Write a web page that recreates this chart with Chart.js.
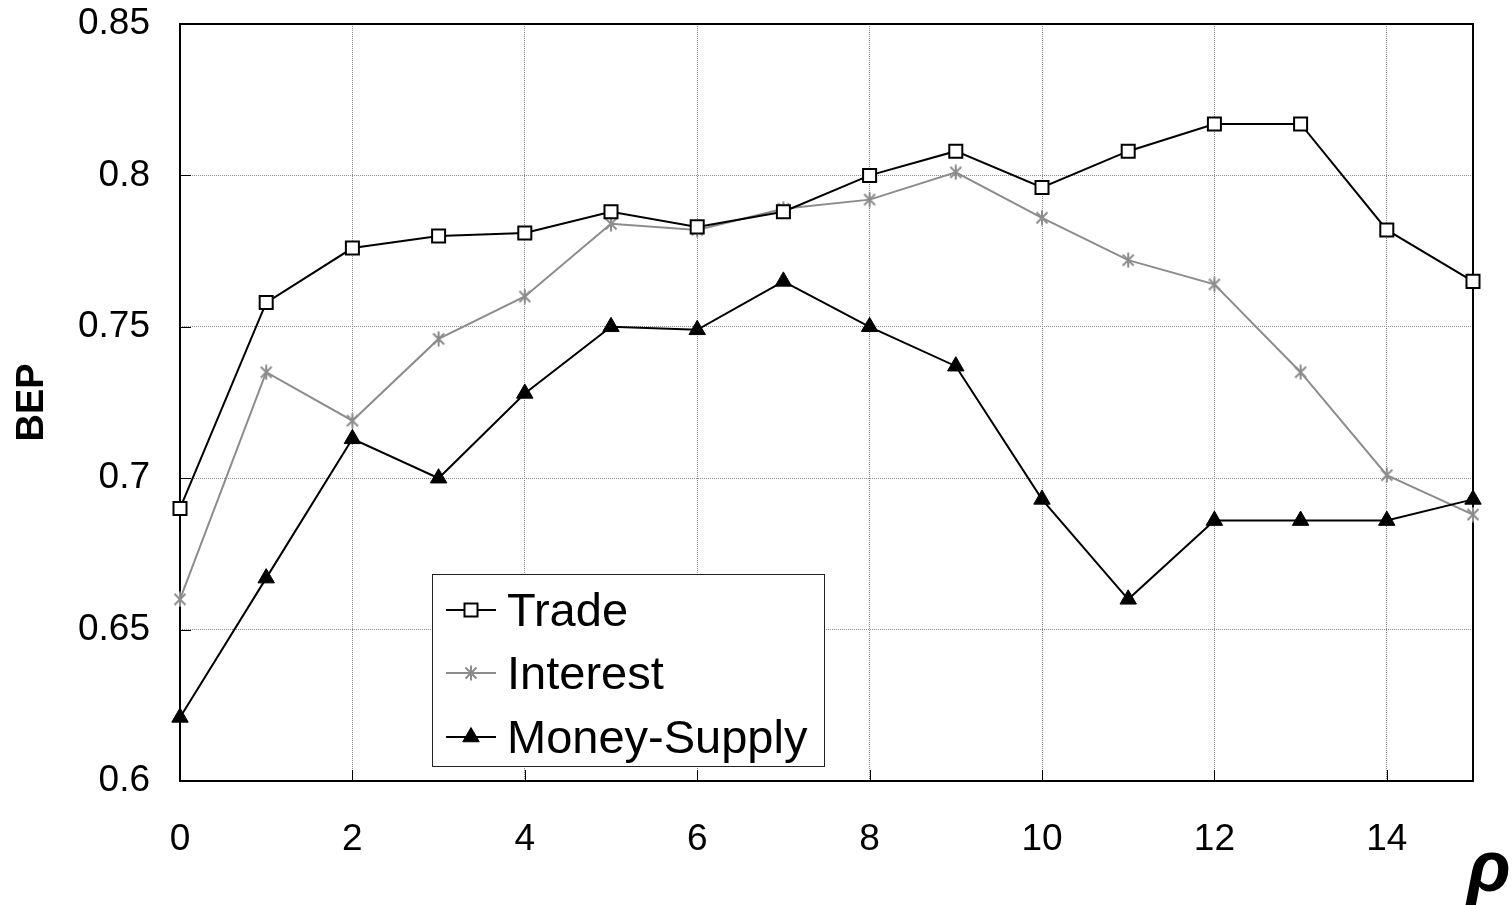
<!DOCTYPE html>
<html>
<head>
<meta charset="utf-8">
<script src="https://cdn.jsdelivr.net/npm/chart.js@4.4.1/dist/chart.umd.min.js"></script>
<style>
  html, body { margin: 0; padding: 0; background: #fff; }
  #wrap { width: 1512px; height: 905px; position: relative; }
</style>
</head>
<body>
<div id="wrap"><canvas id="c"></canvas></div>
<script>
// ---- data ----
const rho = [0, 1, 2, 3, 4, 5, 6, 7, 8, 9, 10, 11, 12, 13, 14, 15];
const tradeBEP = [0.690, 0.758, 0.776, 0.780, 0.781, 0.788, 0.783, 0.788, 0.800, 0.808, 0.796, 0.808, 0.817, 0.817, 0.782, 0.765];
const interestBEP = [0.660, 0.735, 0.719, 0.746, 0.760, 0.784, 0.782, 0.789, 0.792, 0.801, 0.786, 0.772, 0.764, 0.735, 0.701, 0.688];
const moneySupplyBEP = [0.621, 0.667, 0.713, 0.700, 0.728, 0.750, 0.749, 0.765, 0.750, 0.737, 0.693, 0.660, 0.686, 0.686, 0.686, 0.693];
const seriesNames = ['Trade', 'Interest', 'Money-Supply'];
const xTickValues = [0, 2, 4, 6, 8, 10, 12, 14];
const yTickValues = [0.6, 0.65, 0.7, 0.75, 0.8, 0.85];
const xTitle = 'ρ';
const yTitle = 'BEP';

const FONT = '"Liberation Sans", Arial, sans-serif';
const GRAY = '#8c8c8c';

// asterisk marker (X + vertical bar)
function makeAsterisk(color) {
  const c = document.createElement('canvas');
  c.width = 16; c.height = 16;
  const g = c.getContext('2d');
  g.strokeStyle = color; g.lineWidth = 2; g.lineCap = 'butt';
  g.beginPath();
  g.moveTo(2.5, 2.5); g.lineTo(13.5, 13.5);
  g.moveTo(13.5, 2.5); g.lineTo(2.5, 13.5);
  g.moveTo(8, 0.5); g.lineTo(8, 15.5);
  g.stroke();
  return c;
}
const asterisk = makeAsterisk(GRAY);

const toXY = (arr) => arr.map((v, i) => ({ x: rho[i], y: v }));

const datasets = [
  { label: seriesNames[0], data: toXY(tradeBEP), borderColor: '#000', borderWidth: 2,
    pointStyle: 'rect', pointRadius: 9.2, pointHoverRadius: 9.2, pointBackgroundColor: '#fff',
    pointBorderColor: '#000', pointBorderWidth: 2, clip: false, order: 1 },
  { label: seriesNames[1], data: toXY(interestBEP), borderColor: GRAY, borderWidth: 2,
    pointStyle: asterisk, pointRadius: 8, pointBackgroundColor: GRAY, pointBorderColor: GRAY,
    clip: false, order: 2 },
  { label: seriesNames[2], data: toXY(moneySupplyBEP), borderColor: '#000', borderWidth: 2,
    pointStyle: 'triangle', pointRadius: 9.5, pointHoverRadius: 9.5, pointBackgroundColor: '#000',
    pointBorderColor: '#000', pointBorderWidth: 1, clip: false, order: 0 }
];

// frame, inner ticks, legend and rho title
const decorPlugin = {
  id: 'decor',
  beforeDatasetsDraw(chart) {
    const { ctx, chartArea: ca, scales } = chart;
    ctx.save();
    ctx.strokeStyle = '#000'; ctx.lineWidth = 1;
    ctx.beginPath();
    yTickValues.forEach(v => {
      const y = Math.round(scales.y.getPixelForValue(v)) + 0.5;
      ctx.moveTo(ca.left, y); ctx.lineTo(ca.left + 11, y);
    });
    xTickValues.forEach(v => {
      const x = Math.round(scales.x.getPixelForValue(v)) + 0.5;
      ctx.moveTo(x, ca.bottom); ctx.lineTo(x, ca.bottom - 11);
    });
    ctx.stroke();
    ctx.strokeStyle = '#000'; ctx.lineWidth = 2;
    ctx.strokeRect(ca.left, ca.top, ca.right - ca.left, ca.bottom - ca.top);
    ctx.restore();
  },
  afterDatasetsDraw(chart) {
    const { ctx, chartArea: ca } = chart;
    ctx.save();
    const bx = ca.left + 252, by = ca.top + 550, bw = 392, bh = 192;
    ctx.fillStyle = '#fff';
    ctx.fillRect(bx, by, bw, bh);
    ctx.strokeStyle = '#222'; ctx.lineWidth = 1;
    ctx.strokeRect(bx + 0.5, by + 0.5, bw, bh);
    const rows = [36, 99, 163];
    chart.data.datasets.forEach((ds, i) => {
      const ry = by + rows[i];
      ctx.strokeStyle = ds.borderColor; ctx.lineWidth = 2;
      ctx.beginPath(); ctx.moveTo(bx + 14, ry); ctx.lineTo(bx + 64, ry); ctx.stroke();
      ctx.fillStyle = ds.pointBackgroundColor; ctx.strokeStyle = ds.pointBorderColor;
      ctx.lineWidth = ds.pointBorderWidth || 1;
      Chart.helpers.drawPoint(ctx, { pointStyle: ds.pointStyle, rotation: 0,
        radius: ds.pointRadius, borderWidth: ds.pointBorderWidth || 1 }, bx + 39, ry);
      ctx.fillStyle = '#000';
      ctx.font = '47px ' + FONT;
      ctx.textAlign = 'left'; ctx.textBaseline = 'alphabetic';
      ctx.fillText(ds.label, bx + 75, ry + 16);
    });
    ctx.fillStyle = '#000';
    ctx.font = 'bold italic 72px ' + FONT;
    ctx.textAlign = 'left'; ctx.textBaseline = 'alphabetic';
    ctx.fillText(xTitle, ca.right - 6, ca.bottom + 110);
    ctx.restore();
  }
};

new Chart(document.getElementById('c'), {
  type: 'line',
  data: { datasets },
  plugins: [decorPlugin],
  options: {
    responsive: true,
    maintainAspectRatio: false,
    animation: false,
    events: [],
    layout: { padding: { top: 24, right: 39, left: 0, bottom: 0 } },
    plugins: { legend: { display: false }, tooltip: { enabled: false } },
    elements: { line: { tension: 0 } },
    scales: {
      x: {
        type: 'linear', min: 0, max: 15,
        afterBuildTicks: (s) => { s.ticks = xTickValues.map(v => ({ value: v })); },
        afterFit: (s) => { s.height = 124; s.paddingLeft = 0; s.paddingRight = 0; },
        grid: { color: GRAY, lineWidth: 1, drawTicks: false },
        border: { display: false, dash: [1, 1] },
        ticks: { font: { family: FONT, size: 37 }, color: '#000', padding: 37, maxRotation: 0,
          callback: (v) => String(v) }
      },
      y: {
        type: 'linear', min: 0.6, max: 0.85,
        afterBuildTicks: (s) => { s.ticks = yTickValues.map(v => ({ value: v })); },
        afterFit: (s) => { s.width = 180; s.paddingTop = 0; s.paddingBottom = 0; },
        grid: { color: GRAY, lineWidth: 1, drawTicks: false },
        border: { display: false, dash: [1, 1] },
        title: { display: true, text: yTitle, color: '#000',
          font: { family: FONT, size: 38, weight: 'bold' }, padding: { top: 10, bottom: 0 } },
        ticks: { font: { family: FONT, size: 37 }, color: '#000', padding: 30,
          callback: (v) => String(Number(v.toFixed(2))) }
      }
    }
  }
});
</script>
</body>
</html>
